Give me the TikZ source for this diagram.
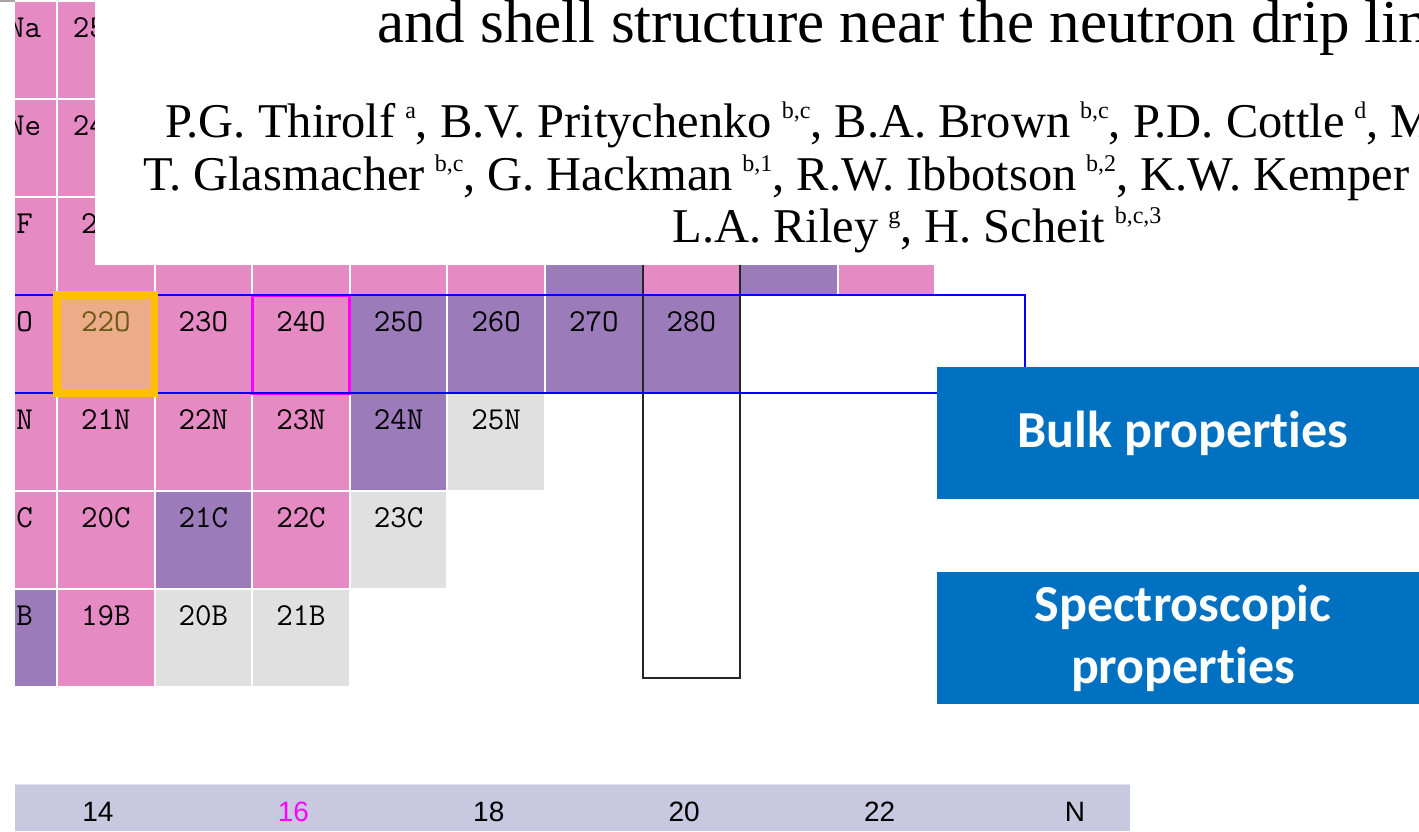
\documentclass[tikz,border=0pt]{standalone}
\usepackage{fontspec}
\setmainfont{Liberation Serif}
\setsansfont{Liberation Sans}
\newfontfamily\calibrifont[Ligatures=NoCommon]{Carlito}
\usepackage{tikz}
\usetikzlibrary{positioning}
\definecolor{nucpink}{HTML}{E68AC4}
\definecolor{nucpurple}{HTML}{9B7BBA}
\definecolor{nucgray}{HTML}{E0E0E0}
\definecolor{nucsalmon}{HTML}{EDAC89}
\definecolor{labelolive}{HTML}{6B5A14}
\definecolor{highgold}{HTML}{FFC000}
\definecolor{hotmagenta}{HTML}{FF00FF}
\definecolor{pureblue}{HTML}{0000FF}
\definecolor{boxblue}{HTML}{0070C0}
\definecolor{axisband}{HTML}{C8C8E0}
\definecolor{axistop}{HTML}{E2E2EE}
\newcommand{\affil}[1]{\hspace{0.2em}\raisebox{19pt}{\fontsize{24}{24}\selectfont #1}}

\begin{document}
\begin{tikzpicture}[x=1pt,y=-1pt,
  cell/.style={rectangle,draw=white,line width=2pt,outer sep=0pt,inner sep=0pt,
    minimum width=97.6pt,minimum height=98pt},
  celltext/.style={anchor=base,inner sep=0pt,font=\ttfamily\fontsize{32}{34}\selectfont},
  axistext/.style={anchor=base,inner sep=0pt,font=\sffamily\fontsize{28}{30}\selectfont},
  titletext/.style={anchor=base west,inner sep=0pt,font=\fontsize{61}{66}\selectfont},
  authortext/.style={anchor=base west,inner sep=0pt,font=\fontsize{48.5}{52}\selectfont},
  propbox/.style={rectangle,fill=boxblue,text=white,align=center,inner sep=0pt,
    minimum width=492pt,minimum height=132pt,
    font=\calibrifont\bfseries\fontsize{52}{62}\selectfont},
  oline/.style={draw=pureblue,line width=2pt},
  nline/.style={draw=black!85,line width=2pt}
]
\useasboundingbox (0,0) rectangle (1419,831);
\fill[white] (0,0) rectangle (1419,831);
\draw[gray!70,line width=1.5pt] (0,0.75) -- (95,0.75);

\begin{scope}
\clip (15,0) rectangle (1419,831);
% chart cells: N / row / label / fill / text colour
\foreach \n/\r/\lab/\col/\tc in {
  13/0/24Na/nucpink/black, 14/0/25Na/nucpink/black,
  13/1/23Ne/nucpink/black, 14/1/24Ne/nucpink/black,
  13/2/22F/nucpink/black, 14/2/23F/nucpink/black,
  13/3/21O/nucpink/black, 14/3/22O/nucsalmon/labelolive, 15/3/23O/nucpink/black,
  16/3/24O/nucpink/black, 17/3/25O/nucpurple/black, 18/3/26O/nucpurple/black,
  19/3/27O/nucpurple/black, 20/3/28O/nucpurple/black,
  13/4/20N/nucpink/black, 14/4/21N/nucpink/black, 15/4/22N/nucpink/black,
  16/4/23N/nucpink/black, 17/4/24N/nucpurple/black, 18/4/25N/nucgray/black,
  13/5/19C/nucpink/black, 14/5/20C/nucpink/black, 15/5/21C/nucpurple/black,
  16/5/22C/nucpink/black, 17/5/23C/nucgray/black,
  13/6/18B/nucpurple/black, 14/6/19B/nucpink/black, 15/6/20B/nucgray/black,
  16/6/21B/nucgray/black}
{
  \node[cell,fill=\col] (c\lab) at ({105.8+(\n-14)*97.6},{50+98*\r}) {};
  \node[celltext,text=\tc] at ([yshift=-36pt]c\lab.north) {\lab};
}
% fluorine cells whose labels sit under the title block
\foreach \n/\col in {15/nucpink, 16/nucpink, 17/nucpink, 18/nucpink,
  19/nucpurple, 20/nucpink, 21/nucpurple, 22/nucpink}
  \node[cell,fill=\col] (cF\n) at ({105.8+(\n-14)*97.6},246) {};
\draw[hotmagenta,line width=3pt] (c24O.north west) rectangle (c24O.south east);
\draw[nline] (cF20.north west) rectangle (740.2,678);
\draw[oline] (c21O.north west) rectangle ([xshift=284.8pt]c28O.south east);
\draw[highgold,line width=7.5pt] (c22O.north west) rectangle (c22O.south east);
\end{scope}

% title block
\fill[white] (95,0) rectangle (1419,265);
\begin{scope}
\clip (0,0) rectangle (1419,831);
\node[titletext] (title) at (377,42) {and shell structure near the neutron drip lin};
\node[authortext] (authA) at (165,137) {P.G. Thirolf\affil{a}, B.V. Pritychenko\affil{b,c}, B.A. Brown\affil{b,c}, P.D. Cottle\affil{d}, M};
\node[authortext] (authB) at (143,190) {T. Glasmacher\affil{b,c}, G. Hackman\affil{b,1}, R.W. Ibbotson\affil{b,2}, K.W. Kemper\affil{d}};
\node[authortext,anchor=base] (authC) at (917,242) {L.A. Riley\affil{g}, H. Scheit\affil{b,c,3}};

\node[propbox] (bulk) at (1183,433) {Bulk properties};
\node[propbox,below=73pt of bulk] (spectro) {Spectroscopic\\properties};
\end{scope}

% neutron number axis
\fill[axisband] (15,785) rectangle (1130,831);
\draw[axistop,line width=1.5pt] (15,784.5) -- (1130,784.5);
\foreach \x/\lab/\tc in {98/14/black, 293.4/16/hotmagenta, 488.8/18/black,
  684.2/20/black, 879.6/22/black, 1075/N/black}
  \node[axistext,text=\tc] (ax\lab) at (\x,821) {\lab};
\end{tikzpicture}
\end{document}
